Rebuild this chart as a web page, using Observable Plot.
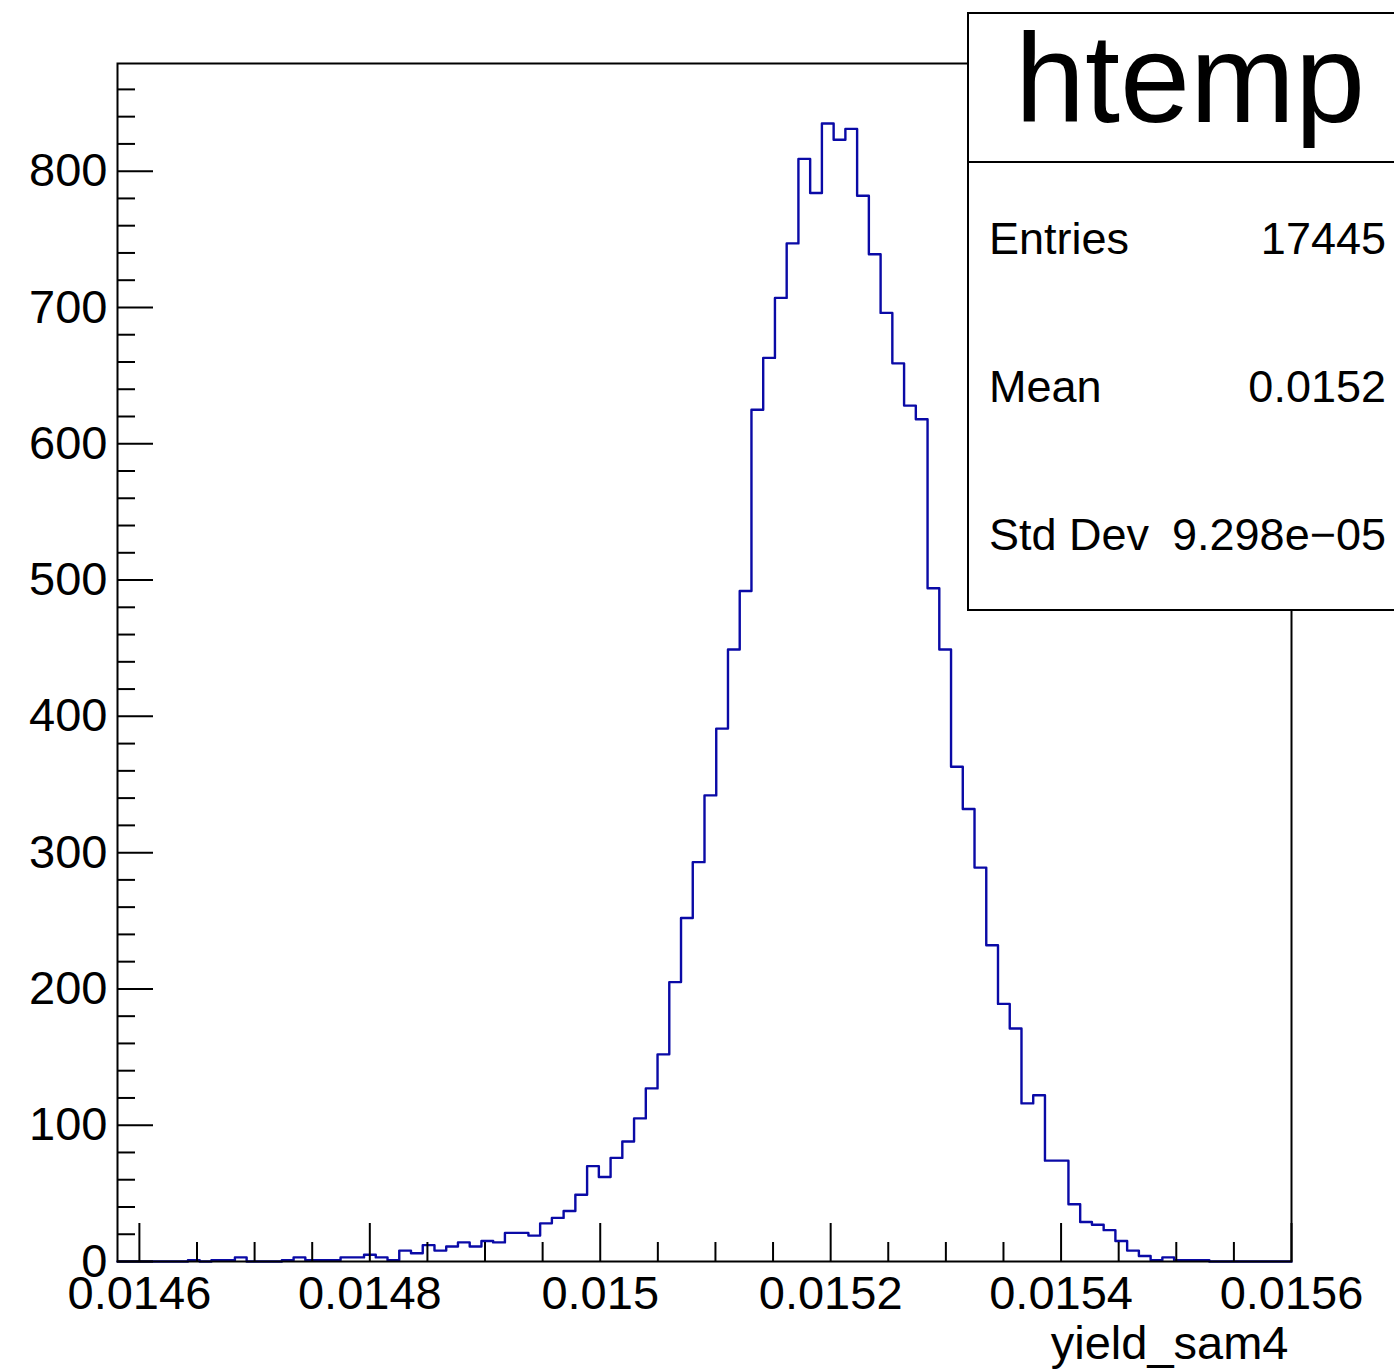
<!DOCTYPE html>
<html>
<head>
<meta charset="utf-8">
<script src="https://cdn.jsdelivr.net/npm/d3@7"></script>
<script src="https://cdn.jsdelivr.net/npm/@observablehq/plot@0.6"></script>
<style>
  html, body { margin: 0; padding: 0; background: #fff; overflow: hidden; }
  #chart svg { display: block; overflow: hidden; }
</style>
</head>
<body>
<div id="chart"></div>
<script>
// ---- data (100 bins) ----
const binCounts = [
  0, 0, 0, 0, 0, 0, 1, 0, 1, 1,
  3, 0, 0, 0, 1, 3, 1, 1, 1, 3,
  3, 5, 3, 1, 8, 6, 12, 8, 11, 14,
  11, 15, 14, 21, 21, 19, 28, 32, 37, 49,
  70, 62, 76, 88, 105, 127, 152, 205, 252, 293,
  342, 391, 449, 492, 625, 663, 707, 747, 809, 784,
  835, 823, 831, 782, 739, 696, 659, 628, 618, 494,
  449, 363, 332, 289, 232, 189, 171, 116, 122, 74,
  74, 42, 29, 27, 23, 15, 8, 4, 1, 3,
  1, 1, 1, 0, 0, 0, 0, 0, 0, 0
];
const xRange = [0.014581, 0.0156];
const yRange = [0, 879];
const xMajorTicks = [0.0146, 0.0148, 0.015, 0.0152, 0.0154, 0.0156];
const xTickLabels = ["0.0146", "0.0148", "0.015", "0.0152", "0.0154", "0.0156"];
const xMinorTicks = [0.01465, 0.0147, 0.01475, 0.01485, 0.0149, 0.01495,
                     0.01505, 0.0151, 0.01515, 0.01525, 0.0153, 0.01535,
                     0.01545, 0.0155, 0.01555];
const yMajorTicks = [0, 100, 200, 300, 400, 500, 600, 700, 800];
const yMinorTicks = [20, 40, 60, 80, 120, 140, 160, 180, 220, 240, 260, 280,
                     320, 340, 360, 380, 420, 440, 460, 480, 520, 540, 560, 580,
                     620, 640, 660, 680, 720, 740, 760, 780, 820, 840, 860];
const xTitle = "yield_sam4";
const histName = "htemp";
const statsLabels = ["Entries", "Mean", "Std Dev"];
const statsValues = ["17445", "0.0152", "9.298e\u221205"];

// ---- layout ----
const W = 1394, H = 1370;
const mL = 117, mR = 103, mT = 63, mB = 109;
const frameW = W - mL - mR, frameH = H - mT - mB;
const FONT = "'Liberation Sans', Arial, Helvetica, sans-serif";

// histogram outline points (bin low edges + final right edge)
const nBins = binCounts.length;
const binW = (xRange[1] - xRange[0]) / nBins;
const steps = binCounts.map((c, i) => ({x: xRange[0] + i * binW, y: c}));
steps.push({x: xRange[1], y: binCounts[nBins - 1]});

const plot = Plot.plot({
  width: W, height: H,
  marginLeft: mL, marginRight: mR, marginTop: mT, marginBottom: mB,
  style: {fontFamily: FONT, background: "#fff", color: "#000"},
  x: {domain: xRange},
  y: {domain: yRange},
  marks: [
    Plot.line(steps, {x: "x", y: "y", curve: "step-after", stroke: "#0a0aa6", strokeWidth: 2.4}),
    // ticks pointing into the frame (ROOT style)
    Plot.tickX(xMajorTicks, {x: d => d, stroke: "#000", strokeWidth: 2, insetTop: frameH - 38}),
    Plot.tickX(xMinorTicks, {x: d => d, stroke: "#000", strokeWidth: 2, insetTop: frameH - 19}),
    Plot.tickY(yMajorTicks, {y: d => d, stroke: "#000", strokeWidth: 2, insetRight: frameW - 36}),
    Plot.tickY(yMinorTicks, {y: d => d, stroke: "#000", strokeWidth: 2, insetRight: frameW - 18}),
    Plot.frame({stroke: "#000", strokeWidth: 2}),
    Plot.axisX({ticks: xMajorTicks, tickSize: 0, tickPadding: 14, fontSize: 47,
                tickFormat: d => xTickLabels[xMajorTicks.indexOf(d)], label: null}),
    Plot.axisY({ticks: yMajorTicks, tickSize: 0, tickPadding: 10, fontSize: 47,
                tickFormat: d => String(d), label: null}),
    Plot.text([xTitle], {text: d => d, frameAnchor: "bottom-right", textAnchor: "end",
                         lineAnchor: "bottom", dx: -3, dy: 97, fontSize: 47})
  ]
});

document.getElementById("chart").appendChild(plot);

// ---- statistics box (ROOT TPaveStats), partly cut by the right edge ----
const svg = d3.select(plot);
const box = svg.append("g").attr("font-family", FONT).attr("fill", "#000").attr("text-anchor", "start");
box.append("rect")
  .attr("x", 968).attr("y", 13).attr("width", W - 968 + 10).attr("height", 597)
  .attr("fill", "#fff").attr("stroke", "#000").attr("stroke-width", 2);
box.append("line")
  .attr("x1", 968).attr("x2", W + 10).attr("y1", 162).attr("y2", 162)
  .attr("stroke", "#000").attr("stroke-width", 2);
box.append("text")
  .attr("x", 1190).attr("y", 122).attr("text-anchor", "middle")
  .attr("font-size", 126).text(histName);
const rowBase = [254, 402, 550];
statsLabels.forEach((lab, i) => {
  box.append("text").attr("x", 989).attr("y", rowBase[i])
    .attr("text-anchor", "start").attr("font-size", 45).text(lab);
  box.append("text").attr("x", 1386).attr("y", rowBase[i])
    .attr("text-anchor", "end").attr("font-size", 45).text(statsValues[i]);
});
</script>
</body>
</html>
